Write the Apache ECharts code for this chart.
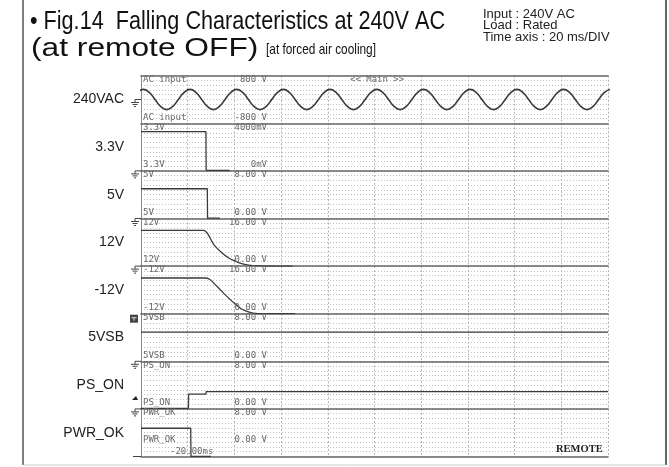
<!DOCTYPE html>
<html>
<head>
<meta charset="utf-8">
<title>Fig.14 Falling Characteristics at 240V AC</title>
<script src="https://cdn.jsdelivr.net/npm/echarts@6/dist/echarts.min.js"></script>
<style>
  html, body { margin: 0; padding: 0; background: #fff; }
  #chart { width: 669px; height: 467px; }
</style>
</head>
<body>
<div id="chart"></div>
<script>
// channel names on the left of the scope picture
const channelNames = ['240VAC', '3.3V', '5V', '12V', '-12V', '5VSB', 'PS_ON', 'PWR_OK'];
// tags the scope writes inside every channel
const scopeTags = ['AC input', '3.3V', '5V', '12V', '-12V', '5VSB', 'PS_ON', 'PWR_OK'];
const scaleTop = ['800 V', '4000mV', '8.00 V', '16.00 V', '16.00 V', '8.00 V', '8.00 V', '8.00 V'];
const scaleBottom = ['-800 V', '0mV', '0.00 V', '0.00 V', '0.00 V', '0.00 V', '0.00 V', '0.00 V'];
const yMin = [-800, 0, 0, 0, 0, 0, 0, 0];
const yMax = [800, 4, 8, 16, 16, 8, 8, 8];

// time axis in ms : 20 ms/DIV, 10 DIV
const timeMin = 0;
const timeMax = 200;
const timeDiv = 20;

// AC input (V), one sample every 2.5 ms starting at -1.5 ms
const acStart = -1.5;
const acStep = 2.5;
const acInput = [
  240,
  339, 240, 0, -240, -339, -240, 0, 240,
  339, 240, 0, -240, -339, -240, 0, 240,
  339, 240, 0, -240, -339, -240, 0, 240,
  339, 240, 0, -240, -339, -240, 0, 240,
  339, 240, 0, -240, -339, -240, 0, 240,
  339, 240, 0, -240, -339, -240, 0, 240,
  339, 240, 0, -240, -339, -240, 0, 240,
  339, 240, 0, -240, -339, -240, 0, 240,
  339, 240, 0, -240, -339, -240, 0, 240,
  339, 240, 0, -240, -339, -240, 0, 240,
  339
];

// outputs [ms, V]
const out3v3 = [[0, 3.3], [27.8, 3.3], [27.9, 0.05], [38, 0.05]];
const out5v = [[0, 5], [28.4, 5], [28.5, 0.05], [33.8, 0.05]];
const out12v = [[0, 12], [26.8, 12], [27.6, 11.7], [28.8, 10.6], [30.3, 8.4], [31.7, 6.7], [34.6, 4.5],
  [37.4, 2.8], [40.3, 1.7], [43.1, 0.8], [46, 0.35], [50, 0.1], [65, 0]];
const outM12v = [[0, 12], [28, 12], [28.8, 11.8], [30, 11.2], [32, 9.6], [34, 8], [36, 6.4], [38, 4.9],
  [40, 3.5], [42, 2.2], [44, 1.2], [46, 0.6], [48, 0.2], [52, 0], [66, 0]];
const out5vsb = [[0, 4.9], [200, 4.9]];
const psOn = [[0, 0.1], [20.3, 0.1], [20.4, 2.5], [27.8, 2.5], [27.9, 2.9], [200, 2.9]];
const pwrOk = [[0, 4.75], [21.3, 4.75], [21.4, 0], [30, 0]];

// picture layout
const plotLeft = 141;
const plotWidth = 467;
const plotTop = 75.7;
const chH = 47.6;

let acData = acInput.map(function (v, i) { return [acStart + i * acStep, v]; });
let traces = [acData, out3v3, out5v, out12v, outM12v, out5vsb, psOn, pwrOk];

let grids = [], xAxes = [], yAxes = [], series = [];
for (let i = 0; i < 8; i++) {
  grids.push({ left: plotLeft, width: plotWidth, top: plotTop + i * chH, height: chH });
  xAxes.push({
    type: 'value', gridIndex: i, min: timeMin, max: timeMax, interval: timeDiv, position: 'top',
    axisLine: { show: true, onZero: false, lineStyle: { color: '#666', width: 1.6 } },
    axisTick: { show: false }, axisLabel: { show: false },
    splitLine: { show: true, lineStyle: { color: '#b4b4b4', type: [2, 2], width: 1 } }
  });
  yAxes.push({
    type: 'value', gridIndex: i, min: yMin[i], max: yMax[i], interval: (yMax[i] - yMin[i]) / 10,
    axisLine: { show: true, lineStyle: { color: '#888', width: 1 } },
    axisTick: { show: false }, axisLabel: { show: false },
    splitLine: { show: true, lineStyle: { color: '#c2c2c2', type: [1, 2], width: 1 } }
  });
  series.push({
    type: 'line', xAxisIndex: i, yAxisIndex: i, data: traces[i],
    showSymbol: false, smooth: i === 0 ? true : (i === 3 || i === 4 ? 0.3 : false),
    lineStyle: { color: '#3a3a3a', width: i === 0 ? 1.6 : 1.3 },
    animation: false, z: 3
  });
}
// bottom line of the last channel
xAxes.push({
  type: 'value', gridIndex: 7, min: timeMin, max: timeMax, position: 'bottom',
  axisLine: { show: true, onZero: false, lineStyle: { color: '#666', width: 1.6 } },
  axisTick: { show: false }, axisLabel: { show: false }, splitLine: { show: false }
});

let monoFont = '9px "DejaVu Sans Mono", monospace';
let graphics = [];
function txt(x, y, text, font, color, align, sx) {
  graphics.push({
    type: 'text', x: x, y: y, z: 10, scaleX: sx || 1,
    style: { text: text, font: font, fill: color, align: align || 'left', verticalAlign: 'middle',
      textAlign: align || 'left', textVerticalAlign: 'middle' }
  });
}
function seg(x1, y1, x2, y2, color, w) {
  graphics.push({ type: 'line', z: 10, shape: { x1: x1, y1: y1, x2: x2, y2: y2 },
    style: { stroke: color || '#444', lineWidth: w || 1 } });
}
function ground(y0) {
  seg(135, y0, 141, y0);
  seg(135, y0, 135, y0 + 3);
  seg(131, y0 + 3, 139, y0 + 3);
  seg(132.5, y0 + 5, 137.5, y0 + 5);
  seg(134, y0 + 7, 136, y0 + 7);
}

// outer frame
seg(23, 0, 23, 465, '#555', 1.5);
seg(666, 0, 666, 465, '#333', 1.5);
seg(23, 465, 666, 465, '#ccc', 1);

// titles
let sans = '"Liberation Sans", Arial, sans-serif';
txt(30, 22, '\u2022 Fig.14  Falling Characteristics at 240V AC', '25px ' + sans, '#111', 'left', 0.865);
txt(31, 49, '(at remote OFF)', '26px ' + sans, '#111', 'left', 1.22);
txt(266, 50, '[at forced air cooling]', '15px ' + sans, '#111', 'left', 0.79);
txt(483, 14, 'Input : 240V AC', '13px ' + sans, '#222');
txt(483, 25.5, 'Load : Rated', '13px ' + sans, '#222');
txt(483, 37, 'Time axis : 20 ms/DIV', '13px ' + sans, '#222');

for (let i = 0; i < 8; i++) {
  let top = plotTop + i * chH;
  let bottom = top + chH;
  txt(124, top + chH / 2, channelNames[i], '14px ' + sans, '#222', 'right');
  txt(143, top + 4, scopeTags[i], monoFont, '#6a6a6a');
  txt(267, top + 4, scaleTop[i], monoFont, '#6a6a6a', 'right');
  let by = i === 7 ? bottom - 17 : bottom - 6;
  txt(143, by, scopeTags[i], monoFont, '#6a6a6a');
  txt(267, by, scaleBottom[i], monoFont, '#6a6a6a', 'right');
  if (i === 0) ground(top + chH / 2);
  else if (i === 4) {
    graphics.push({ type: 'rect', z: 10, shape: { x: 130, y: bottom + 1, width: 8, height: 8 },
      style: { fill: '#444' } });
    seg(131.5, bottom + 4, 136.5, bottom + 4, '#ddd');
    seg(134, bottom + 4, 134, bottom + 7, '#ddd');
  } else if (i === 7) seg(133, bottom, 141, bottom);
  else ground(bottom);
}
txt(350, plotTop + 4, '<< Main >>', monoFont, '#6a6a6a');
txt(170, 452, '-20.00ms', monoFont, '#6a6a6a');
// PS_ON level marker
graphics.push({ type: 'polygon', z: 10, shape: { points: [[132, 400], [138, 400], [136, 396]] },
  style: { fill: '#222' } });
txt(556, 449, 'REMOTE', 'bold 10.5px "Liberation Serif", "DejaVu Serif", serif', '#222');

let myChart = echarts.init(document.getElementById('chart'));
let option = {
  animation: false,
  backgroundColor: '#fff',
  grid: grids,
  xAxis: xAxes,
  yAxis: yAxes,
  series: series,
  graphic: graphics
};
myChart.setOption(option);
window.addEventListener('resize', function () { myChart.resize(); });
</script>
</body>
</html>
